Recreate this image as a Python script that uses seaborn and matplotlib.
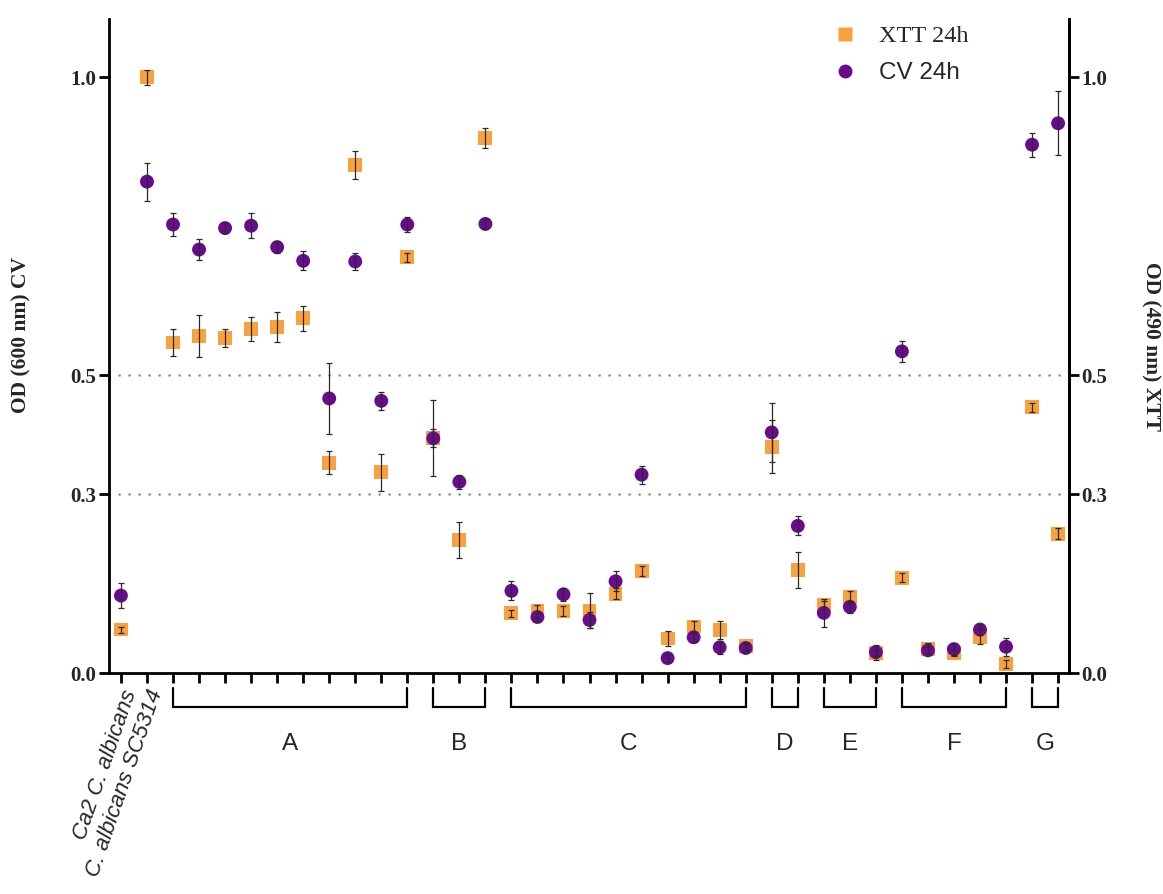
import numpy as np
import pandas as pd
import matplotlib
matplotlib.use("Agg")
import matplotlib.pyplot as plt
import matplotlib.transforms as mtransforms
from matplotlib.lines import Line2D
import seaborn as sns

# ---------------- data ----------------
strain_labels = ["Ca2 C. albicans", "C. albicans SC5314"]
groups = ["A", "B", "C", "D", "E", "F", "G"]
group_sizes = [10, 3, 10, 2, 3, 5, 2]

cv_24h = [0.130, 0.825, 0.753, 0.711, 0.747, 0.751, 0.715, 0.692, 0.461, 0.691,
          0.457, 0.753, 0.394, 0.321, 0.754, 0.138, 0.094, 0.132, 0.089, 0.154,
          0.333, 0.025, 0.060, 0.043, 0.042, 0.404, 0.247, 0.101, 0.111, 0.035,
          0.540, 0.038, 0.040, 0.073, 0.044, 0.887, 0.923]
cv_err = [0.021, 0.032, 0.020, 0.018, 0.008, 0.021, 0.010, 0.016, 0.060, 0.014,
          0.015, 0.013, 0.064, 0.012, 0.008, 0.016, 0.006, 0.011, 0.014, 0.017,
          0.015, 0.007, 0.008, 0.011, 0.006, 0.049, 0.016, 0.023, 0.010, 0.0125,
          0.018, 0.006, 0.010, 0.009, 0.015, 0.0205, 0.054]
xtt_24h = [0.073, 1.000, 0.555, 0.566, 0.563, 0.578, 0.581, 0.596, 0.353, 0.853,
           0.337, 0.698, 0.394, 0.223, 0.898, 0.100, 0.104, 0.104, 0.105, 0.133,
           0.171, 0.058, 0.078, 0.072, 0.045, 0.380, 0.173, 0.114, 0.127, 0.033,
           0.160, 0.041, 0.034, 0.061, 0.015, 0.446, 0.234]
xtt_err = [0.005, 0.0125, 0.022, 0.035, 0.015, 0.020, 0.025, 0.021, 0.019, 0.023,
           0.031, 0.008, 0.015, 0.030, 0.017, 0.006, 0.011, 0.009, 0.030, 0.009,
           0.008, 0.0125, 0.0095, 0.0145, 0.006, 0.044, 0.031, 0.007, 0.010, 0.005,
           0.008, 0.0097, 0.005, 0.0125, 0.006, 0.008, 0.0095]

y_ticks = [0.0, 0.3, 0.5, 1.0]
y_ticklabels = ["0.0", "0.3", "0.5", "1.0"]
ref_lines = [0.3, 0.5]

ORANGE = "#F8A23F"
PURPLE = "#6A0A8E"

n = len(cv_24h)
df = pd.DataFrame({
    "pos": np.arange(n),
    "cv": cv_24h, "cv_err": cv_err,
    "xtt": xtt_24h, "xtt_err": xtt_err,
})

# ---------------- style ----------------
sns.set_theme(style="ticks")
plt.rcParams["font.family"] = ["Liberation Sans", "DejaVu Sans"]

fig = plt.figure(figsize=(11.63, 8.94), dpi=100)
ax = fig.add_axes([0.0937, 0.2472, 0.8255, 0.7315])

for yv in ref_lines:
    ax.axhline(yv, color="#8c8c8c", lw=1.8, ls=(0, (0.1, 3.9)),
               dash_capstyle="round", zorder=1)

sns.scatterplot(data=df, x="pos", y="xtt", marker="s", s=100, color=ORANGE,
                edgecolor="none", linewidth=0, ax=ax, zorder=2, legend=False)
sns.scatterplot(data=df, x="pos", y="cv", marker="o", s=100, color=PURPLE,
                edgecolor="none", linewidth=0, ax=ax, zorder=3, legend=False)

ax.errorbar(df["pos"], df["xtt"], yerr=df["xtt_err"], fmt="none",
            ecolor="#2a2a2a", elinewidth=0.9, capsize=2.5, capthick=0.9, zorder=4)
ax.errorbar(df["pos"], df["cv"], yerr=df["cv_err"], fmt="none",
            ecolor="#2a2a2a", elinewidth=0.9, capsize=2.5, capthick=0.9, zorder=5)

ax.set_xlim(-0.46, 36.42)
ax.set_ylim(0, 1.098)

# x ticks
ax.set_xticks(df["pos"])
xlabels = strain_labels + [""] * (n - len(strain_labels))
ax.set_xticklabels(xlabels, rotation=71, ha="right", va="top",
                   rotation_mode="anchor", fontstyle="italic",
                   fontfamily="Liberation Sans", fontsize=16)
ax.set_xlabel("")

# y ticks
ax.set_yticks(y_ticks)
ax.set_yticklabels(y_ticklabels, fontfamily="Liberation Serif",
                   fontweight="bold", fontsize=15)
ax.set_ylabel("OD (600 nm) CV", fontfamily="Liberation Serif",
              fontweight="bold", fontsize=15.5)
ax.yaxis.set_label_coords(-0.081, 0.517)

for side in ["left", "bottom", "right"]:
    ax.spines[side].set_linewidth(2.0)
    ax.spines[side].set_color("black")
ax.spines["top"].set_visible(False)
ax.tick_params(axis="both", width=2, length=7, direction="out", color="black")
ax.tick_params(axis="x", pad=3)
ax.tick_params(axis="y", pad=2)

# right axis
ax2 = ax.twinx()
ax2.set_ylim(ax.get_ylim())
ax2.set_yticks(y_ticks)
ax2.set_yticklabels(y_ticklabels, fontfamily="Liberation Serif",
                    fontweight="bold", fontsize=15)
ax2.set_ylabel("OD (490 nm) XTT", fontfamily="Liberation Serif",
               fontweight="bold", fontsize=15.5, rotation=270, va="center")
ax2.yaxis.set_label_coords(1.085, 0.5)
for side in ["left", "bottom", "top"]:
    ax2.spines[side].set_visible(False)
ax2.spines["right"].set_linewidth(2.0)
ax2.spines["right"].set_color("black")
ax2.tick_params(axis="y", width=2, length=7, direction="out", color="black", pad=2)
ax2.grid(False)

# group brackets
trans = mtransforms.blended_transform_factory(ax.transData, ax.transAxes)
start = len(strain_labels)
for g, size in zip(groups, group_sizes):
    s, e = start, start + size - 1
    ax.plot([s, s, e, e], [-0.0229, -0.0515, -0.0515, -0.0229], transform=trans,
            clip_on=False, color="black", lw=1.6, solid_joinstyle="miter")
    ax.text((s + e) / 2, -0.108, g, transform=trans, ha="center", va="center",
            fontsize=17.5, fontfamily="Liberation Sans")
    start += size

# legend
handles = [
    Line2D([], [], marker="s", ls="none", color=ORANGE, markersize=10, mec="none"),
    Line2D([], [], marker="o", ls="none", color=PURPLE, markersize=10, mec="none"),
]
leg = ax.legend(handles, ["XTT 24h", "CV 24h"], loc="upper left",
                bbox_to_anchor=(0.7162, 0.972), bbox_transform=fig.transFigure,
                frameon=False, fontsize=17.5, handlelength=1.0,
                handletextpad=0.9, labelspacing=0.62, borderpad=0, borderaxespad=0)
leg.get_texts()[0].set_fontfamily("Liberation Serif")
leg.get_texts()[1].set_fontfamily("Liberation Sans")

fig.savefig("out.png", dpi=100)
